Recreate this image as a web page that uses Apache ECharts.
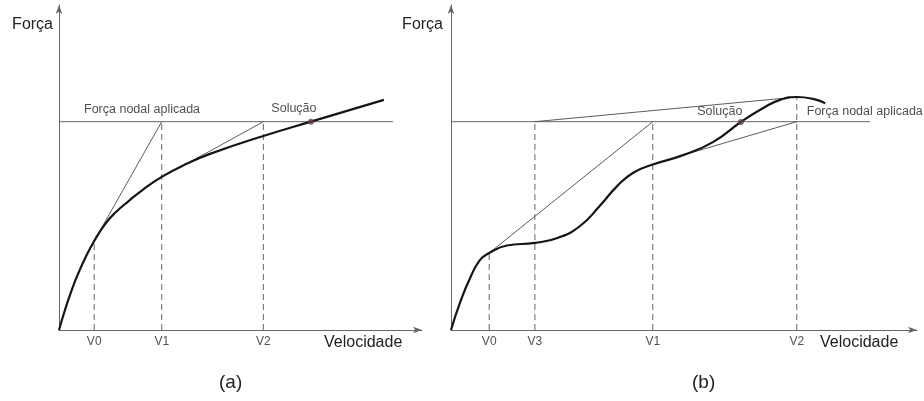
<!DOCTYPE html>
<html><head><meta charset="utf-8">
<script src="https://cdn.jsdelivr.net/npm/echarts@6/dist/echarts.min.js"></script>
<style>html,body{margin:0;padding:0;background:#fff}#c{width:924px;height:401px}</style>
</head><body><div id="c"></div>
<script>
// ---------- Panel (a) data ----------
const forceA = 64.1;
const forceLineEndA = 92;
const curveA = [[0,0],[1.65,6.15],[3.5,12.3],[5.3,17.4],[7.2,22.1],[9.7,27.4],[12.7,32.6],[15.4,36.0],[19.1,39.6],[22.8,42.9],[28.3,47.1],[35.3,51.2],[41.6,54.2],[56.3,59.7],[69.4,64.1],[89.5,70.8]];
const tickLabelsA = ['V0','V1','V2'];
const tickValuesA = [9.7,28.3,56.3];
const dashTopsA = [27.4,64.1,64.1];
const tangentsA = [[[28.3,64.1],[9.7,27.4]],[[56.3,64.1],[35.3,51.2]]];
const solutionA = [69.4,64.1];

// ---------- Panel (b) data ----------
const forceB = 64.1;
const forceLineEndB = 89.9;
const curveB = [[0,0],[1.9,8.3],[4.1,16.0],[6.2,21.5],[8.2,23.7],[12.0,26.0],[18.0,26.8],[23.0,28.4],[27.7,32.0],[32.0,38.3],[35.6,44.2],[39.1,48.4],[43.3,50.9],[49.8,53.8],[56.2,57.8],[62.2,64.0],[67.0,68.3],[70.6,70.8],[74.3,71.7],[77.7,71.1],[80.3,69.8]];
const tickLabelsB = ['V0','V3','V1','V2'];
const tickValuesB = [8.2,18.0,43.3,74.2];
const dashTopsB = [23.7,64.1,64.1,71.7];
const tangentsB = [[[8.2,23.7],[43.3,64.1]],[[18.0,64.1],[74.3,71.7]],[[74.2,64.1],[49.8,53.8]]];
const solutionB = [62.2,64.0];

const FONT = '"Liberation Sans", Arial, sans-serif';
const TXT = '#222';

function xAx(gi, gap){
  return {type:'value', gridIndex:gi, min:0, max:100, name:'Velocidade', nameLocation:'end', nameGap:gap,
    nameTextStyle:{fontSize:16, color:TXT, fontFamily:FONT, align:'left', verticalAlign:'top', padding:[5,0,0,0]},
    axisLine:{show:true, onZero:false, symbol:['none','arrow'], symbolSize:[5,9], lineStyle:{color:'#666', width:1}},
    axisTick:{show:false}, axisLabel:{show:false}, splitLine:{show:false}};
}
function yAx(gi, pad){
  return {type:'value', gridIndex:gi, min:0, max:100, name:'Força', nameLocation:'end', nameGap:-20,
    nameTextStyle:{fontSize:16, color:TXT, fontFamily:FONT, align:'right', verticalAlign:'middle', padding:[0,pad,0,0]},
    axisLine:{show:true, onZero:false, symbol:['none','arrow'], symbolSize:[5,9], lineStyle:{color:'#666', width:1}},
    axisTick:{show:false}, axisLabel:{show:false}, splitLine:{show:false}};
}
function seg(gi, data, style){
  return {type:'line', xAxisIndex:gi, yAxisIndex:gi, data:data, showSymbol:false, symbol:'none', silent:true,
    lineStyle:style, z:2, animation:false};
}
const thin = {color:'#4a4a4a', width:0.9};
const dash = {color:'#666', width:1, type:[6,4]};
const curveStyle = {color:'#151515', width:2.2};

function panel(gi, force, forceEnd, curve, labels, vals, tops, tangents, sol, forceLabelAnchor, forceLabelOffset, solOffset){
  const s = [];
  s.push(seg(gi, [[0,force],[forceEnd,force]], {color:'#666', width:1}));
  vals.forEach((v,i)=>{ s.push(seg(gi, [[v,0],[v,tops[i]]], dash)); });
  tangents.forEach(t=>{ s.push(seg(gi, t, thin)); });
  s.push({type:'line', xAxisIndex:gi, yAxisIndex:gi, data:curve, smooth:0.5, showSymbol:false, symbol:'none',
    lineStyle:curveStyle, z:3, animation:false});
  s.push({type:'scatter', xAxisIndex:gi, yAxisIndex:gi, symbolSize:0, z:4, animation:false,
    data: vals.map((v,i)=>({value:[v,0], name:labels[i]})),
    label:{show:true, position:'bottom', distance:6, formatter:p=>p.name, fontSize:12, color:TXT, fontFamily:FONT}});
  s.push({type:'scatter', xAxisIndex:gi, yAxisIndex:gi, symbol:'circle', symbolSize:6, z:5, animation:false,
    itemStyle:{color:'#5b4040'}, data:[{value:sol, name:'Solução'}],
    label:{show:true, position:solOffset, formatter:'Solução', fontSize:12.5, color:TXT, fontFamily:FONT, align:'center', verticalAlign:'middle'}});
  s.push({type:'scatter', xAxisIndex:gi, yAxisIndex:gi, symbolSize:0, z:5, animation:false,
    data:[{value:forceLabelAnchor, name:'Força nodal aplicada'}],
    label:{show:true, position:forceLabelOffset, formatter:'Força nodal aplicada', fontSize:12.5, color:TXT, fontFamily:FONT, align:'left', verticalAlign:'middle'}});
  return s;
}

const chart = echarts.init(document.getElementById('c'), null, {renderer:'canvas'});
chart.setOption({
  backgroundColor:'#fff',
  animation:false,
  grid:[
    {left:59, top:5, width:363, height:325},
    {left:451, top:5, width:466, height:325}
  ],
  xAxis:[xAx(0,-98), xAx(1,-97)],
  yAxis:[yAx(0,6), yAx(1,8)],
  graphic:[
    {type:'text', left:219, top:373, style:{text:'(a)', fontSize:19, fill:TXT, fontFamily:FONT}},
    {type:'text', left:692, top:373, style:{text:'(b)', fontSize:19, fill:TXT, fontFamily:FONT}}
  ],
  series:[].concat(
    panel(0, forceA, forceLineEndA, curveA, tickLabelsA, tickValuesA, dashTopsA, tangentsA, solutionA, [0,forceA], [25,-12], [-14,-10]),
    panel(1, forceB, forceLineEndB, curveB, tickLabelsB, tickValuesB, dashTopsB, tangentsB, solutionB, [tickValuesB[3],forceB], [10,-10], [-18,-7])
  )
});
</script></body></html>
